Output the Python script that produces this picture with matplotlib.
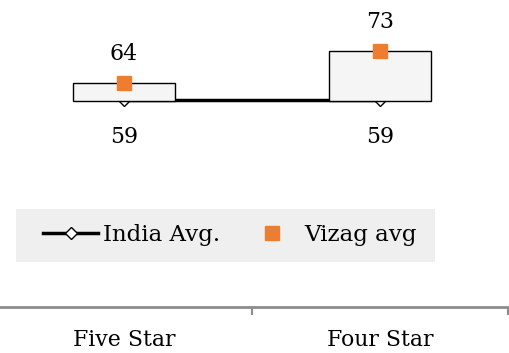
import matplotlib
matplotlib.use("Agg")
import matplotlib.pyplot as plt
from matplotlib.lines import Line2D
from matplotlib.patches import Rectangle

categories = ["Five Star", "Four Star"]
india_avg = [59, 59]
vizag_avg = [64, 73]

plt.rcParams["font.family"] = ["DejaVu Serif"]
fs = 15.8

fig = plt.figure(figsize=(5.09, 3.53), dpi=100)
ax = fig.add_axes([-4 / 509, 1 - 307 / 353, 512 / 509, 307 / 353])
ax.patch.set_alpha(0)

x = list(range(len(categories)))

# India line underneath, up/down boxes over it, Vizag markers on top
ax.plot(x, india_avg, color="black", lw=2.5, marker="D", markersize=6.5,
        markerfacecolor="white", markeredgecolor="black", markeredgewidth=1,
        zorder=2)
heights = [v - i for v, i in zip(vizag_avg, india_avg)]
ax.bar(x, heights, bottom=india_avg, width=0.4, color="#f5f5f5",
       edgecolor="black", linewidth=1, zorder=3)
ax.plot(x, vizag_avg, linestyle="none", marker="s", markersize=10.5,
        color="#ED7D31", zorder=4)

for xi, v in zip(x, vizag_avg):
    ax.annotate(str(v), (xi, v), xytext=(0, 21), textcoords="offset points",
                ha="center", va="center", fontsize=fs)
for xi, v in zip(x, india_avg):
    ax.annotate(str(v), (xi, v), xytext=(0, -26.5), textcoords="offset points",
                ha="center", va="center", fontsize=fs)

ax.set_xlim(-0.5, 1.5)
ax.set_ylim(0, 307 / 3.5)
for side in ["top", "left", "right"]:
    ax.spines[side].set_visible(False)
ax.spines["bottom"].set_color("#8c8c8c")
ax.spines["bottom"].set_linewidth(2)
ax.set_yticks([])
ax.set_xticks([-0.5, 0.5, 1.5], labels=["", "", ""])
ax.tick_params(axis="x", which="major", length=6, width=1.5, color="#8c8c8c")
ax.set_xticks(x, labels=categories, minor=True)
ax.tick_params(axis="x", which="minor", length=0, pad=16, labelsize=fs)

# legend on a light grey band
fig.patches.append(Rectangle((16 / 509, 1 - 262 / 353), 419 / 509, 53 / 353,
                             transform=fig.transFigure, facecolor="#efefef",
                             edgecolor="none", zorder=-1))
handles = [
    Line2D([], [], color="black", lw=2.5, marker="D", markersize=6.5,
           markerfacecolor="white", markeredgecolor="black", markeredgewidth=1),
    Line2D([], [], linestyle="none", marker="s", markersize=10.5, color="#ED7D31"),
]
fig.legend(handles, ["India Avg.", "Vizag avg"], ncol=2, frameon=False,
           loc="center left", bbox_to_anchor=(43 / 509, 1 - 235.5 / 353),
           borderpad=0, borderaxespad=0, fontsize=16.5, handlelength=2.4,
           handletextpad=0.22, columnspacing=1.05)

fig.savefig("out.png", dpi=100)
